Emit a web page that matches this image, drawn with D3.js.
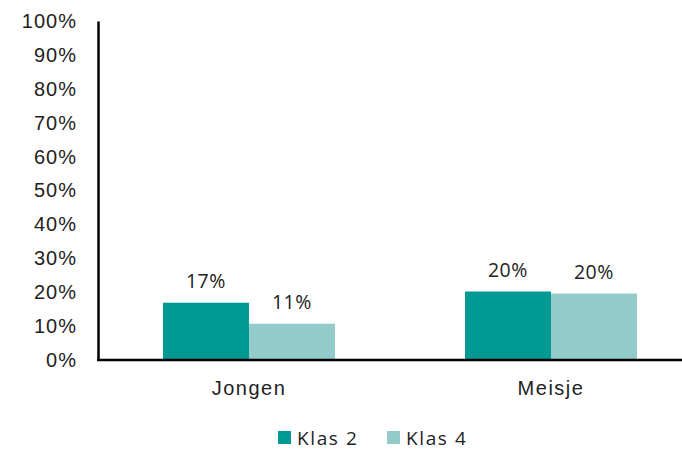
<!DOCTYPE html>
<html>
<head>
<meta charset="utf-8">
<script src="https://cdn.jsdelivr.net/npm/d3@7"></script>
<style>
  html, body { margin: 0; padding: 0; background: #fff; }
  svg { display: block; font-family: "Open Sans", Lato, sans-serif; }
</style>
</head>
<body>
<svg id="chart" width="682" height="449"></svg>
<script>
// Share of pupils per group, per school year
const categories = ["Jongen", "Meisje"];
const seriesNames = ["Klas 2", "Klas 4"];
const klas2 = [16.9, 20.2];
const klas4 = [10.7, 19.6];
const yTicks = [0, 10, 20, 30, 40, 50, 60, 70, 80, 90, 100];
const colors = ["#009994", "#93cbcb"];

const svg = d3.select("#chart");
const W = 682;
const plotLeft = 98, plotTop = 21, plotBottom = 360;

const y = d3.scaleLinear().domain([0, 100]).range([plotBottom, plotTop]);
const x0 = d3.scaleBand().domain(categories).range([plotLeft, plotLeft + 604]).paddingInner(0).paddingOuter(0);
const x1 = d3.scaleBand().domain(seriesNames).range([0, 172]);

const rows = categories.map((c, i) => ({ cat: c, vals: [klas2[i], klas4[i]] }));

// bars with value labels
const g = svg.append("g");
rows.forEach(r => {
  const gx = x0(r.cat) + (x0.bandwidth() - 172) / 2;
  r.vals.forEach((v, j) => {
    const s = seriesNames[j];
    g.append("rect")
      .attr("x", gx + x1(s))
      .attr("y", y(v))
      .attr("width", x1.bandwidth())
      .attr("height", y(0) - y(v))
      .attr("fill", colors[j]);
    g.append("text")
      .attr("x", gx + x1(s) + x1.bandwidth() / 2)
      .attr("y", y(v) - 15)
      .attr("text-anchor", "middle")
      .attr("font-size", 19.5)
      .attr("letter-spacing", 0.6)
      .attr("fill", "#222")
      .text(Math.round(v) + "%");
  });
});

// y axis
const yAxis = d3.axisLeft(y).tickValues(yTicks).tickFormat(d => d + "%").tickSize(0).tickPadding(21);
const ya = svg.append("g").attr("transform", `translate(${plotLeft},0)`).call(yAxis);
ya.select(".domain").attr("stroke", "#000").attr("stroke-width", 2.5);
ya.selectAll("text")
  .attr("font-size", 20).attr("letter-spacing", 1)
  .attr("fill", "#222").attr("font-family", "inherit");

// x axis
const xAxis = d3.axisBottom(x0).tickSize(0);
const xa = svg.append("g").attr("transform", `translate(0,${plotBottom})`).call(xAxis);
xa.select(".domain").remove();
xa.selectAll("text")
  .attr("y", 35).attr("dy", 0)
  .attr("font-size", 20).attr("letter-spacing", 1.5)
  .attr("fill", "#222").attr("font-family", "inherit");
svg.append("line")
  .attr("x1", plotLeft - 1).attr("x2", W)
  .attr("y1", plotBottom).attr("y2", plotBottom)
  .attr("stroke", "#000").attr("stroke-width", 2.5);

// legend
const legendX = [278, 387];
seriesNames.forEach((s, j) => {
  const lg = svg.append("g").attr("transform", `translate(${legendX[j]},431)`);
  lg.append("rect").attr("width", 13).attr("height", 13).attr("fill", colors[j]);
  lg.append("text").attr("x", 19).attr("y", 13.5)
    .attr("font-size", 19).attr("letter-spacing", 1.6)
    .attr("fill", "#222").text(s);
});
</script>
</body>
</html>
